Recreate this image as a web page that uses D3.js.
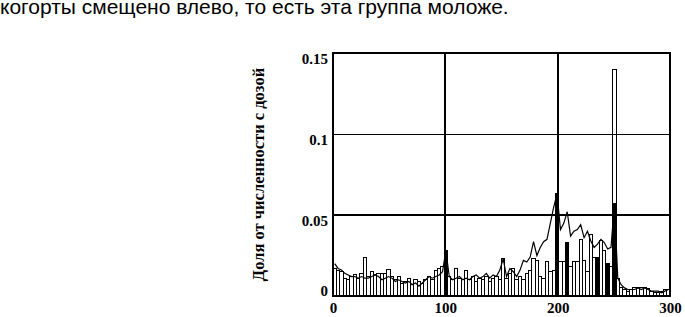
<!DOCTYPE html>
<html><head><meta charset="utf-8">
<script src="https://cdn.jsdelivr.net/npm/d3@7"></script>
<style>
html,body{margin:0;padding:0;background:#fff;}
svg{display:block;}
</style></head>
<body>
<svg id="chart" width="685" height="317"></svg>
<script>
// ---- data ----
const binWidth = 3; // dose units per bar
const barValues = [
 0.017,0.016,0.015,0.011,0.010,0.012,0.013,0.011,0.014,0.0235,
 0.012,0.015,0.013,0.014,0.014,0.014,0.0165,0.012,0.010,0.012,
 0.008,0.009,0.011,0.007,0.010,0.009,0.008,0.010,0.012,0.010,
 0.016,0.017,0.018,0.028,0.012,0.010,0.017,0.011,0.010,0.016,
 0.010,0.012,0.009,0.011,0.010,0.012,0.009,0.011,0.012,0.010,
 0.023,0.011,0.014,0.017,0.010,0.012,0.010,0.014,0.016,0.023,
 0.022,0.012,0.011,0.021,0.015,0.016,0.063,0.021,0.021,0.033,
 0.018,0.021,0.021,0.035,0.022,0.015,0.038,0.024,0.0235,0.034,
 0.028,0.020,0.018,0.140,0.011,0.005,0.004,0.003,0.004,0.005,
 0.0055,0.005,0.0055,0.0045,0.003,0.002,0.002,0.003,0.004,0.004
];
const lineValues = [
 0.020,0.017,0.016,0.014,0.013,0.012,0.012,0.011,0.012,0.011,
 0.011,0.012,0.013,0.012,0.010,0.011,0.012,0.011,0.009,0.010,
 0.009,0.008,0.009,0.007,0.008,0.006,0.008,0.010,0.012,0.011,
 0.012,0.013,0.015,0.028,0.012,0.010,0.011,0.012,0.010,0.011,
 0.010,0.012,0.013,0.011,0.012,0.014,0.011,0.013,0.012,0.016,
 0.023,0.012,0.017,0.015,0.012,0.016,0.022,0.021,0.024,0.0335,
 0.025,0.030,0.0335,0.035,0.045,0.055,0.063,0.041,0.045,0.052,
 0.037,0.040,0.041,0.044,0.036,0.040,0.034,0.030,0.032,0.035,
 0.033,0.029,0.030,0.057,0.011,0.007,0.005,0.004,0.004,0.004,
 0.005,0.004,0.005,0.004,0.003,0.003,0.003,0.002,0.003,0.004
];
const darkBins = [33, 66, 69, 78, 81, 83];
const darkValues = [0.028, 0.063, 0.033, 0.0235, 0.020, 0.057];
const xTicks = [0, 100, 200, 300];
const yTicks = [0, 0.05, 0.1, 0.15];
const yTickLabels = ["0", "0.05", "0.1", "0.15"];
const yTitle = "Доля от численности с дозой";
const topText = "когорты смещено влево, то есть эта группа моложе.";

// ---- layout ----
const svg = d3.select("#chart");
const x = d3.scaleLinear().domain([0, 300]).range([333, 670]);
const y = d3.scaleLinear().domain([0, 0.15]).range([296, 53]);

svg.append("text").attr("x", 0).attr("y", 14)
  .attr("font-family", "Liberation Sans, Arial, sans-serif").attr("font-size", 21)
  .attr("fill", "#000").text(topText);

const plot = svg.append("g");

// bars
plot.selectAll("rect.bar").data(barValues).join("rect")
  .attr("class", "bar")
  .attr("x", (d, i) => x(i * binWidth))
  .attr("width", (d, i) => x((i + 1) * binWidth) - x(i * binWidth))
  .attr("y", d => y(d))
  .attr("height", d => y(0) - y(d))
  .attr("shape-rendering", "crispEdges")
  .attr("fill", "#fff").attr("stroke", "#000").attr("stroke-width", 1);

// dark (solid) bars
plot.selectAll("rect.dark").data(darkBins).join("rect")
  .attr("class", "dark")
  .attr("x", d => x(d * binWidth))
  .attr("width", d => x((d + 1) * binWidth) - x(d * binWidth))
  .attr("y", (d, i) => y(darkValues[i]))
  .attr("height", (d, i) => y(0) - y(darkValues[i]))
  .attr("shape-rendering", "crispEdges")
  .attr("fill", "#000").attr("stroke", "#000").attr("stroke-width", 1);

// line
plot.append("path")
  .datum(lineValues)
  .attr("fill", "none").attr("stroke", "#000").attr("stroke-width", 1.2)
  .attr("d", d3.line().x((d, i) => x(i * binWidth + binWidth / 2)).y(d => y(d)));

// gridlines
const gx = [100, 200];
plot.selectAll("line.gx").data(gx).join("line")
  .attr("x1", d => x(d)).attr("x2", d => x(d))
  .attr("y1", y(0.15)).attr("y2", y(0))
  .attr("shape-rendering", "crispEdges")
  .attr("stroke", "#000").attr("stroke-width", 2);
const gy = [0.05, 0.1];
plot.selectAll("line.gy").data(gy).join("line")
  .attr("x1", x(0)).attr("x2", x(300))
  .attr("y1", d => y(d)).attr("y2", d => y(d))
  .attr("shape-rendering", "crispEdges")
  .attr("stroke", "#000").attr("stroke-width", d => d === 0.05 ? 2 : 1);

// frame
plot.append("rect").attr("x", x(0)).attr("y", y(0.15))
  .attr("width", x(300) - x(0)).attr("height", y(0) - y(0.15))
  .attr("shape-rendering", "crispEdges")
  .attr("fill", "none").attr("stroke", "#000").attr("stroke-width", 2);

// axes
const font = "Liberation Serif, Times New Roman, serif";
const xAxis = svg.append("g").attr("transform", `translate(0,${y(0)})`)
  .call(d3.axisBottom(x).tickValues(xTicks).tickSize(0).tickFormat(d3.format("d")));
xAxis.select(".domain").remove();
xAxis.selectAll("text").attr("font-family", font).attr("font-size", 15)
  .attr("font-weight", "bold").attr("fill", "#000").attr("dy", null).attr("y", 17);

const yAxis = svg.append("g").attr("transform", `translate(${x(0)},0)`)
  .call(d3.axisLeft(y).tickValues(yTicks).tickSize(0).tickFormat((d, i) => yTickLabels[i]));
yAxis.select(".domain").remove();
yAxis.selectAll("text").attr("font-family", font).attr("font-size", 15)
  .attr("font-weight", "bold").attr("fill", "#000").attr("x", -5)
  .attr("dy", d => d === 0 ? "-0.05em" : "0.72em");

// y title
svg.append("text")
  .attr("transform", `translate(264,${(y(0) + y(0.15)) / 2}) rotate(-90)`)
  .attr("text-anchor", "middle")
  .attr("font-family", font).attr("font-size", 16.5).attr("font-weight", "bold")
  .attr("fill", "#000").text(yTitle);
</script>
</body></html>
